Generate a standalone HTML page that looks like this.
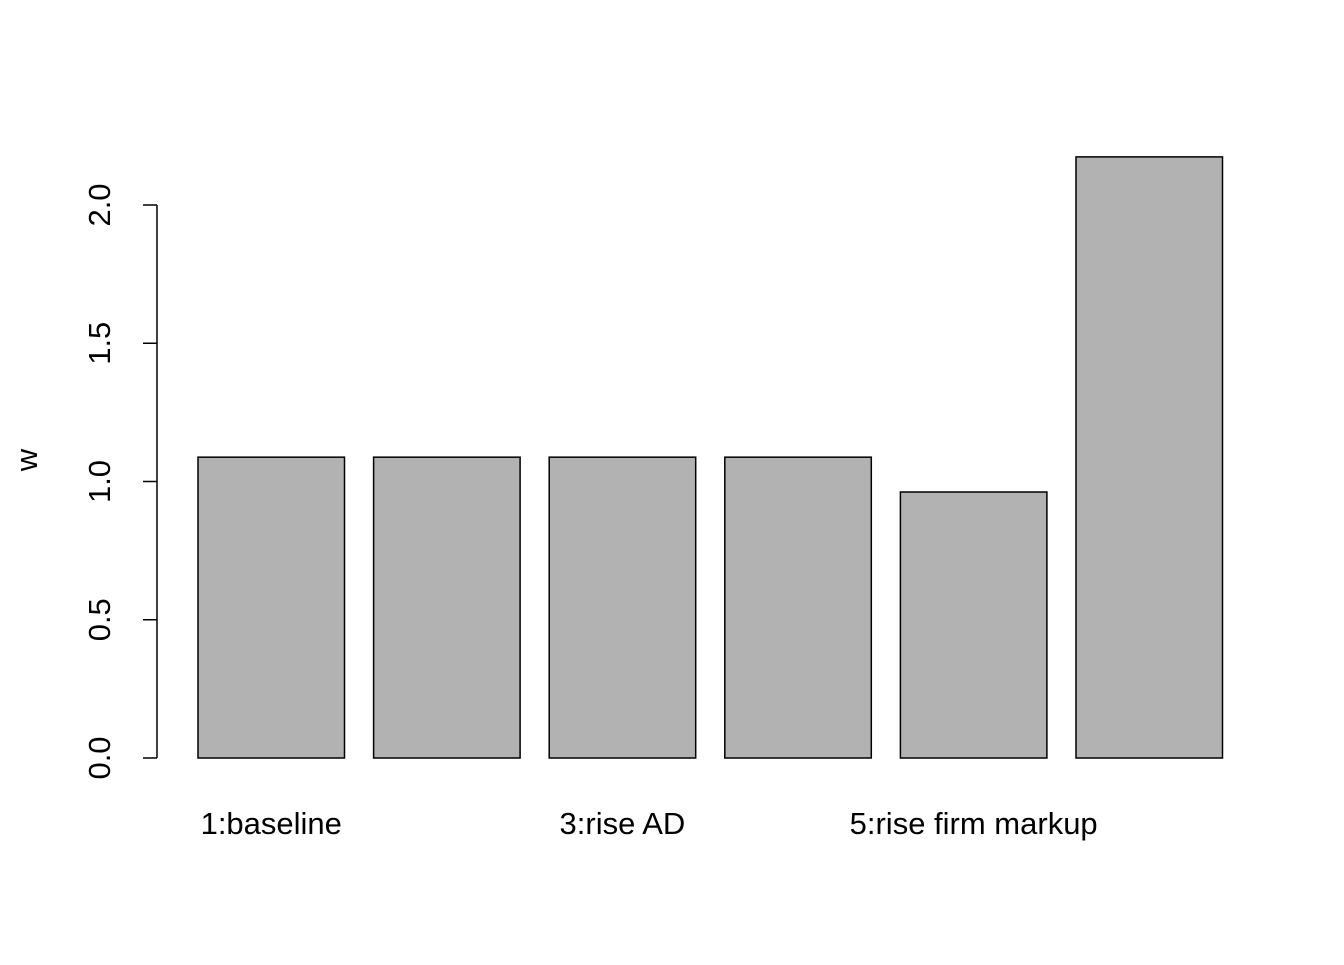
<!DOCTYPE html>
<html><head><meta charset="utf-8"><style>
body{margin:0;background:#fff}
text{font-family:"Liberation Sans",Arial,sans-serif;font-size:31px;fill:#000}
</style></head><body>
<svg id="chart" width="1344" height="960" xmlns="http://www.w3.org/2000/svg">
<g id="bars"></g>
<g id="yaxis"></g>
<g id="xlabels"></g>
<text transform="translate(37,460) rotate(-90)" text-anchor="middle">w</text>
</svg>
<script>
const categories = ["1:baseline","2:","3:rise AD","4:","5:rise firm markup","6:"];
const shownLabels = [true,false,true,false,true,false];
const values = [1.088,1.088,1.088,1.088,0.962,2.174];
const yTicks = [0,0.5,1,1.5,2];
const yTickLabels = ["0.0","0.5","1.0","1.5","2.0"];
const NS="http://www.w3.org/2000/svg";
function y(v){return 758 - v*276.5;}
function xl(i){return 198 + i*175.6;}
const bw=146.5;
function mk(t,a,p){const e=document.createElementNS(NS,t);for(const k in a)e.setAttribute(k,a[k]);p.appendChild(e);return e;}
const bars=document.getElementById('bars');
values.forEach((v,i)=>{
 const r=mk('rect',{x:xl(i),y:y(v),width:bw,height:y(0)-y(v),fill:'#b2b2b2',stroke:'#000','stroke-width':1.5},bars);
 
 
});
const xg=document.getElementById('xlabels');
categories.forEach((c,i)=>{
 if(!shownLabels[i])return;
 const t=mk('text',{x:xl(i)+bw/2,y:834,'text-anchor':'middle'},xg);
 t.textContent=c;
 
 
});
const ya=document.getElementById('yaxis');
mk('line',{x1:157,x2:157,y1:y(yTicks[0]),y2:y(yTicks[yTicks.length-1]),stroke:'#000','stroke-width':1.5},ya);
yTicks.forEach((v,i)=>{
 mk('line',{x1:143,x2:157,y1:y(v),y2:y(v),stroke:'#000','stroke-width':1.5},ya);
 const t=mk('text',{transform:`translate(110,${y(v)}) rotate(-90)`,'text-anchor':'middle'},ya);
 t.textContent=yTickLabels[i];
 
 
});
</script>
</body></html>
